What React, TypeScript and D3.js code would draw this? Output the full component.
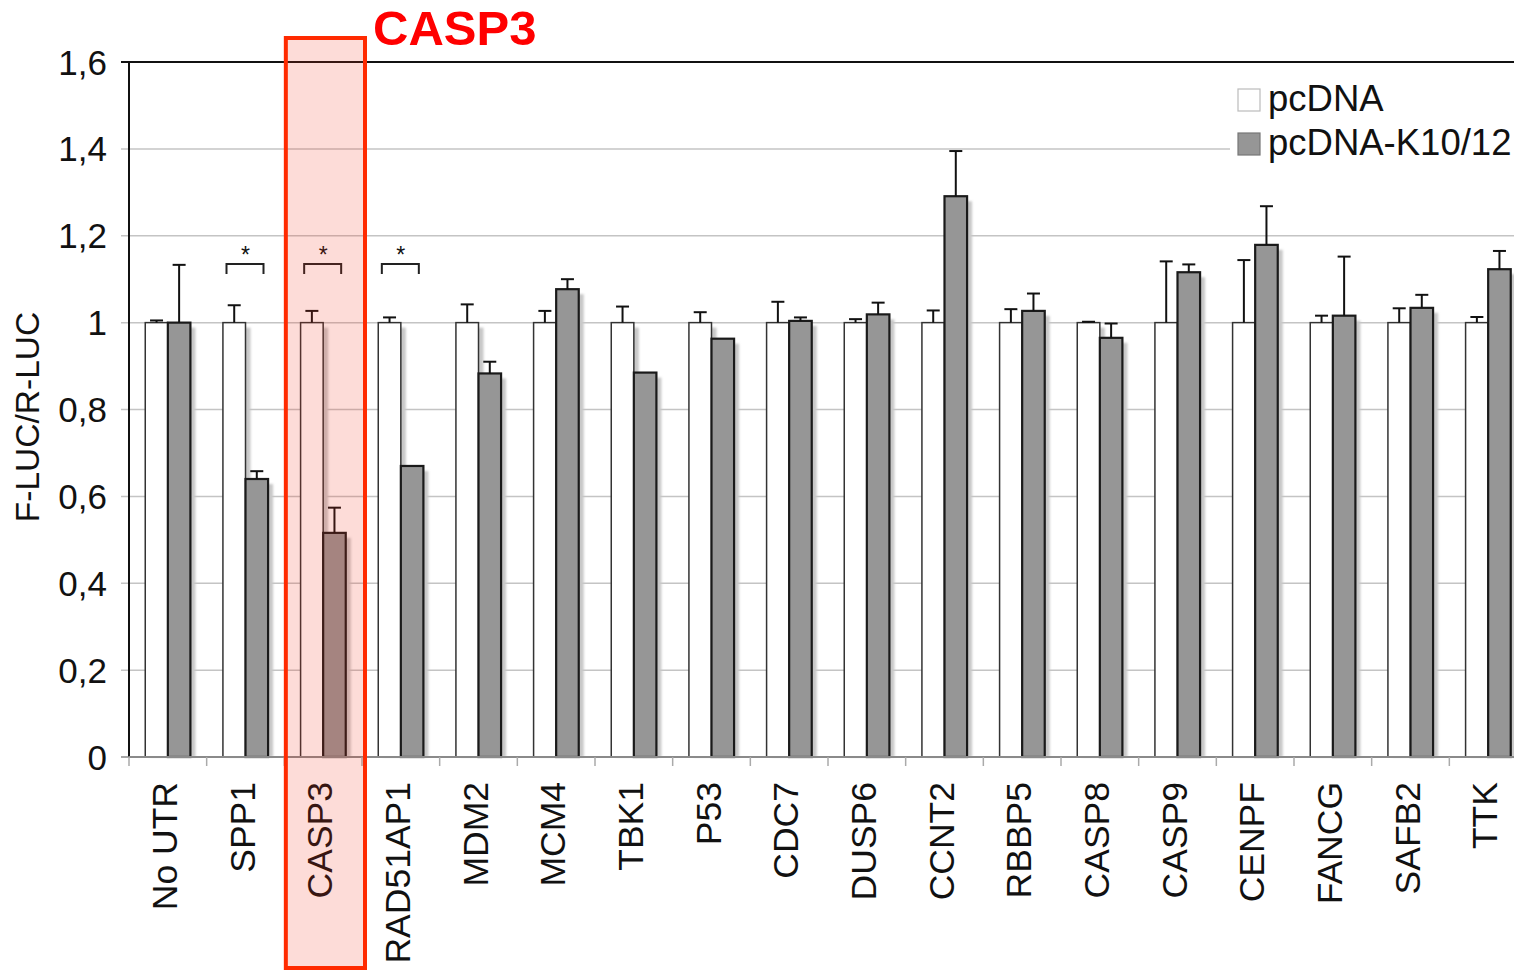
import React from 'react';
import * as d3 from 'd3';

// values
const categories = [
  'No UTR', 'SPP1', 'CASP3', 'RAD51AP1', 'MDM2', 'MCM4', 'TBK1', 'P53', 'CDC7',
  'DUSP6', 'CCNT2', 'RBBP5', 'CASP8', 'CASP9', 'CENPF', 'FANCG', 'SAFB2', 'TTK',
];
const seriesNames = ['pcDNA', 'pcDNA-K10/12'];
const pcdnaValues = [1, 1, 1, 1, 1, 1, 1, 1, 1, 1, 1, 1, 1, 1, 1, 1, 1, 1];
const pcdnaErrors = [0.005, 0.04, 0.027, 0.012, 0.042, 0.027, 0.037, 0.024, 0.048,
  0.008, 0.028, 0.031, 0.002, 0.141, 0.144, 0.016, 0.033, 0.013];
const k1012Values = [1.0, 0.64, 0.516, 0.67, 0.883, 1.077, 0.885, 0.963, 1.004,
  1.019, 1.291, 1.027, 0.965, 1.116, 1.179, 1.016, 1.034, 1.123];
const k1012Errors = [0.133, 0.018, 0.058, 0, 0.027, 0.023, 0, 0, 0.008,
  0.027, 0.104, 0.04, 0.033, 0.018, 0.089, 0.136, 0.03, 0.042];
const significant = ['SPP1', 'CASP3', 'RAD51AP1'];
const highlighted = 'CASP3';
const yTicks = [0, 0.2, 0.4, 0.6, 0.8, 1, 1.2, 1.4, 1.6];
const yTickLabels = ['0', '0,2', '0,4', '0,6', '0,8', '1', '1,2', '1,4', '1,6'];

const W = 1514;
const H = 971;
const FONT = '"Liberation Sans", Arial, Helvetica, sans-serif';
const GREY = '#969696';

export default function App() {
  const x = d3.scaleBand<string>().domain(categories).range([129, 1527]).paddingInner(0);
  const xs = d3.scaleBand<string>().domain(seriesNames).range([0, x.bandwidth()]).paddingOuter(0.72);
  const y = d3.scaleLinear().domain([0, 1.6]).range([757, 62]);

  const series = [
    { name: seriesNames[0], values: pcdnaValues, errors: pcdnaErrors, fill: '#ffffff', stroke: '#333', sw: 1.5 },
    { name: seriesNames[1], values: k1012Values, errors: k1012Errors, fill: GREY, stroke: '#1a1a1a', sw: 2.2 },
  ];

  const bw = xs.bandwidth();
  const hx = x(highlighted)!;

  return (
    <svg width={W} height={H} style={{ position: 'absolute', left: 0, top: 0, background: '#fff' }}
      fontFamily={FONT}>
      <defs>
        <filter id="shadow" x="-50%" y="-10%" width="200%" height="120%">
          <feGaussianBlur stdDeviation="1.2" />
        </filter>
      </defs>

      {/* grid */}
      {yTicks.slice(1, -1).map(t => (
        <line key={t} x1={121} x2={W} y1={y(t)} y2={y(t)} stroke="#c4c4c4" strokeWidth={1.5} />
      ))}
      <line x1={121} x2={W} y1={y(1.6)} y2={y(1.6)} stroke="#111" strokeWidth={2} />
      <line x1={129} x2={129} y1={y(1.6)} y2={y(0)} stroke="#111" strokeWidth={2} />
      <line x1={121} x2={129} y1={y(0)} y2={y(0)} stroke="#888" strokeWidth={1.5} />

      {/* shadows */}
      {series.map(s => categories.map((c, i) => (
        <rect key={s.name + c + 'sh'} x={x(c)! + xs(s.name)! + 5} y={y(s.values[i]) + 5}
          width={bw} height={y(0) - y(s.values[i]) - 5} fill="#c8c8c8" filter="url(#shadow)" />
      )))}

      {/* bars */}
      {series.map(s => categories.map((c, i) => (
        <rect key={s.name + c} x={x(c)! + xs(s.name)!} y={y(s.values[i])}
          width={bw} height={y(0) - y(s.values[i])} fill={s.fill} stroke={s.stroke} strokeWidth={s.sw} />
      )))}

      {/* error bars */}
      {series.map(s => categories.map((c, i) => {
        if (s.errors[i] <= 0) return null;
        const cx = x(c)! + xs(s.name)! + bw / 2;
        const top = y(s.values[i] + s.errors[i]);
        return (
          <g key={s.name + c + 'err'} stroke="#111" strokeWidth={2}>
            <line x1={cx} x2={cx} y1={y(s.values[i])} y2={top} />
            <line x1={cx - 6.5} x2={cx + 6.5} y1={top} y2={top} />
          </g>
        );
      }))}

      {/* bottom axis */}
      <line x1={129} x2={W} y1={y(0)} y2={y(0)} stroke="#8a8a8a" strokeWidth={2} />
      {categories.map(c => (
        <line key={c + 'tk'} x1={x(c)!} x2={x(c)!} y1={y(0)} y2={y(0) + 9} stroke="#aaa" strokeWidth={1.5} />
      ))}

      {/* significance brackets */}
      {significant.map(c => {
        const cx = x(c)! + x.bandwidth() / 2;
        const yb = y(1.135);
        return (
          <g key={c + 'sig'}>
            <path d={`M${cx - 19},${yb + 10}V${yb}H${cx + 18}V${yb + 10}`} fill="none" stroke="#222" strokeWidth={2} />
            <text x={cx} y={yb - 1} textAnchor="middle" fontSize={23} fill="#111">*</text>
          </g>
        );
      })}

      {/* y tick labels */}
      {yTicks.map((t, i) => (
        <text key={'yl' + t} x={107} y={y(t)} dy="0.36em" textAnchor="end" fontSize={35} fill="#111">
          {yTickLabels[i]}
        </text>
      ))}
      <text transform={`translate(39,417) rotate(-90)`} textAnchor="middle" fontSize={33.5} fill="#111">
        F-LUC/R-LUC
      </text>

      {/* x labels */}
      {categories.map(c => (
        <text key={c + 'lab'} transform={`translate(${x(c)! + x.bandwidth() / 2 + 9},782) rotate(-90)`}
          textAnchor="end" fontSize={35.5} fill="#111">{c}</text>
      ))}

      {/* legend */}
      <rect x={1230} y={78} width={290} height={88} fill="#fff" />
      {series.map((s, i) => (
        <g key={s.name + 'leg'} transform={`translate(1238,${89 + i * 44})`}>
          <rect width={22} height={22} fill={s.fill} stroke={i === 0 ? '#bbb' : '#777'} strokeWidth={1.2} />
          <text x={30} y={22} fontSize={36.5} fill="#111">{s.name}</text>
        </g>
      ))}

      {/* highlight */}
      <rect x={hx + 1.5} y={38} width={x.bandwidth() + 1.5} height={930} fill="rgb(245,50,26)" fillOpacity={0.17}
        stroke="#ff2a00" strokeWidth={4} />
      <text x={373} y={45} fontSize={49} fontWeight="bold" fill="#ff0000">{highlighted}</text>
    </svg>
  );
}
